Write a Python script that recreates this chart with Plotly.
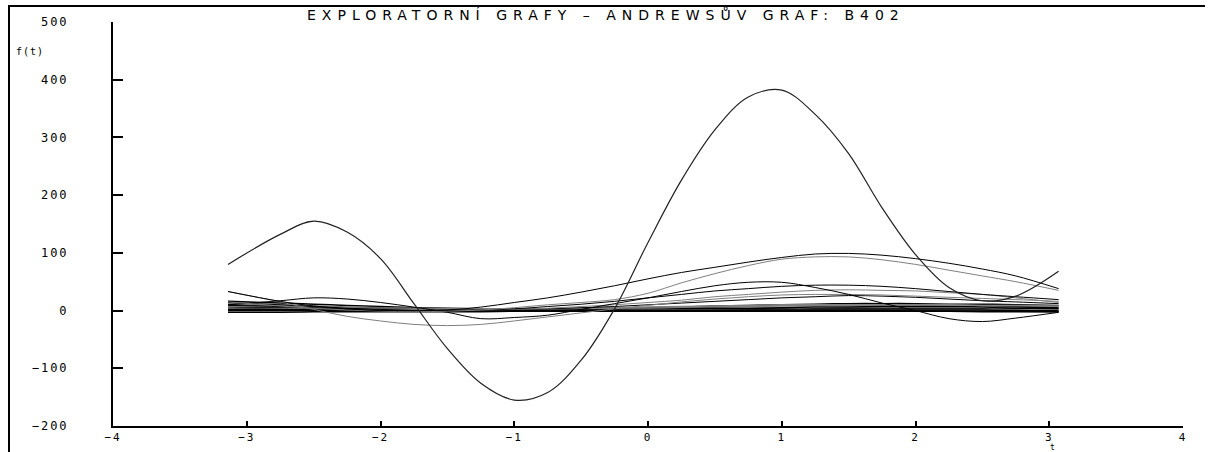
import plotly.graph_objects as go

T = [-3.14, -2.75, -2.5, -2.25, -2.0, -1.75, -1.5, -1.25, -1.0, -0.75, -0.5, -0.25,
     0.0, 0.25, 0.5, 0.75, 1.0, 1.25, 1.5, 1.75, 2.0, 2.25, 2.5, 2.75, 3.07]

curve_a = [80, 132, 155, 136, 90, 12, -66, -126, -155, -142, -86, 3,
           118, 226, 313, 370, 382, 340, 272, 178, 97, 40, 17, 25, 68]
curve_b = [33, 16, 8, 3, 0, 0, 1, 6, 14, 22, 32, 43,
           55, 66, 75, 84, 92, 98, 99, 96, 90, 82, 72, 60, 38]
curve_c = [15, 8, 4, 1, -1, -2, -1, 1, 5, 10, 14, 19,
           30, 48, 64, 78, 89, 93, 93, 88, 80, 70, 60, 50, 35]
curve_d = [10, 17, 22, 20, 14, 6, -3, -14, -12, -8, 2, 12,
           22, 33, 43, 49, 49, 40, 28, 13, 0, -14, -19, -13, -3]
curve_e = [33, 15, 2, -10, -18, -24, -26, -24, -18, -11, -4, 3,
           9, 15, 20, 24, 27, 28, 28, 27, 25, 23, 21, 19, 16]
curve_f = [14, 10, 7, 4, 2, 0, 0, 1, 3, 7, 11, 16,
           22, 28, 34, 38, 42, 44, 44, 42, 38, 33, 28, 24, 19]
curve_g = [12, 9, 7, 5, 3, 2, 1, 1, 2, 4, 7, 10,
           14, 18, 24, 28, 32, 35, 36, 35, 34, 31, 28, 22, 14]
curve_h = [9, 7, 5, 4, 3, 2, 1, 1, 2, 3, 5, 7,
           10, 13, 16, 19, 22, 24, 26, 25, 23, 20, 17, 15, 12]
bundle_1 = [16, 13, 11, 9, 7, 5, 4, 3, 2, 2, 3, 4, 5, 6, 8, 9, 10, 11, 12, 12, 12, 11, 11, 10, 9]
bundle_2 = [12, 10, 8, 6, 5, 4, 3, 2, 2, 2, 3, 3, 4, 5, 6, 7, 8, 9, 9, 9, 9, 8, 8, 7, 6]
bundle_3 = [10, 8, 6, 5, 4, 3, 2, 1, 1, 1, 1, 2, 2, 3, 4, 4, 5, 6, 6, 7, 7, 7, 6, 6, 5]
bundle_4 = [6, 5, 4, 3, 2, 1, 1, 0, 0, 0, 1, 1, 1, 2, 2, 3, 3, 3, 4, 4, 4, 4, 3, 3, 3]
bundle_5 = [4, 3, 2, 2, 1, 1, 0, 0, 0, 0, 0, 0, 1, 1, 1, 1, 2, 2, 2, 2, 2, 2, 2, 1, 1]
bundle_6 = [2, 2, 1, 1, 0, 0, 0, 0, 0, 0, 0, 0, 0, 0, 0, 1, 1, 1, 1, 1, 1, 1, 1, 0, 0]
bundle_7 = [0, 0, 0, -1, -1, -1, -1, -1, -1, -1, -1, -1, 0, 0, 0, 0, 0, 0, 0, 0, -1, -1, -1, -1, -2]
bundle_8 = [-3, -3, -2, -2, -2, -2, -2, -2, -1, -1, -1, -1, -1, -1, -1, -1, -1, -1, -1, -1, -1, -1, -2, -2, -2]
bundle_9 = [8, 7, 6, 5, 4, 3, 3, 3, 3, 3, 4, 5, 6, 7, 8, 9, 10, 10, 10, 10, 10, 10, 9, 9, 8]

x_ticks = [-4, -3, -2, -1, 0, 1, 2, 3, 4]
y_ticks = [-200, -100, 0, 100, 200, 300, 400, 500]
title_text = "EXPLORATORNÍ GRAFY – ANDREWSŮV GRAF: B402"
y_label = "f(t)"
x_label = "t"

BLACK = "#000000"
GRAY = "#808080"

series = [
    (bundle_1, BLACK, 1.5), (bundle_2, GRAY, 1.5), (bundle_3, BLACK, 1.5),
    (bundle_4, BLACK, 1.5), (bundle_5, GRAY, 1.5), (bundle_6, BLACK, 1.5),
    (bundle_7, BLACK, 1.5), (bundle_8, BLACK, 1.5), (bundle_9, GRAY, 1.5),
    (curve_h, BLACK, 1), (curve_g, GRAY, 1), (curve_f, BLACK, 1),
    (curve_e, GRAY, 1), (curve_d, BLACK, 1), (curve_c, GRAY, 1),
    (curve_b, BLACK, 1), (curve_a, "#222222", 1.2),
]

fig = go.Figure()
for ys, col, w in series:
    fig.add_trace(go.Scatter(x=T, y=ys, mode="lines",
                             line=dict(color=col, width=w, shape="spline", smoothing=1.0),
                             showlegend=False, hoverinfo="skip"))

FONT = "DejaVu Sans Mono"
def spaced(s, sp):
    return f'<span style="letter-spacing:{sp}px">{s}</span>'

W, H = 1209, 452
L, R, TOP, B = 113, 26, 22, 26
PH = H - TOP - B  # plot height in px
def px(xp):
    return (xp - L) / (W - L - R)
def py(yp):
    return (H - B - yp) / PH

fig.update_layout(
    width=W, height=H, autosize=False,
    margin=dict(l=L, r=R, t=TOP, b=B, autoexpand=False),
    paper_bgcolor="white", plot_bgcolor="white",
    font=dict(family=FONT, color="black", size=12),
    xaxis=dict(range=[-4, 4], tickvals=x_ticks, automargin=False,
               ticktext=[spaced(str(v).replace("-", "−"), 2) for v in x_ticks],
               ticks="inside", ticklen=5, tickwidth=1.5, tickcolor="black",
               showline=True, linecolor="black", linewidth=1.5,
               showgrid=False, zeroline=False, tickfont=dict(size=11, family=FONT),
               ticklabelstandoff=0),
    yaxis=dict(range=[-200, 500], tickvals=y_ticks, automargin=False,
               ticktext=[spaced(str(v).replace("-", "−"), 2) for v in y_ticks],
               ticks="inside", ticklen=10, tickwidth=1.5, tickcolor="black",
               showline=True, linecolor="black", linewidth=2,
               showgrid=False, zeroline=False, tickfont=dict(size=12, family=FONT),
               ticklabelstandoff=40),
    annotations=[
        dict(text=spaced(title_text, 6), xref="paper", yref="paper",
             x=px(606), y=py(15), xanchor="center", yanchor="middle",
             showarrow=False, font=dict(family="DejaVu Sans", size=14, color="black")),
        dict(text=spaced(y_label, 1), xref="paper", yref="paper",
             x=px(30), y=py(52), xanchor="center", yanchor="middle",
             showarrow=False, font=dict(family=FONT, size=10, color="black")),
        dict(text=x_label, xref="paper", yref="paper",
             x=px(1052), y=py(447.5), xanchor="center", yanchor="middle",
             showarrow=False, font=dict(family=FONT, size=8, color="#000000")),
    ],
    shapes=[
        dict(type="line", xref="paper", yref="paper",
             x0=px(8), x1=px(1205), y0=py(6), y1=py(6),
             line=dict(color="black", width=2)),
        dict(type="line", xref="paper", yref="paper",
             x0=px(9), x1=px(9), y0=py(6), y1=py(460),
             line=dict(color="black", width=2)),
    ],
)

fig.write_html("out.html", config={"displayModeBar": False},
               post_script="document.body.style.margin='0';")
